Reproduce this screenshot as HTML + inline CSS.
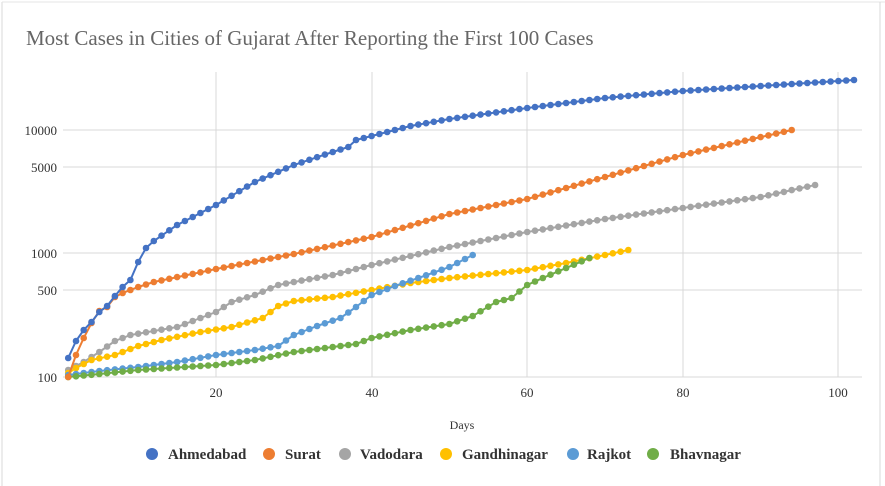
<!DOCTYPE html>
<html><head><meta charset="utf-8"><style>
html,body{margin:0;padding:0;background:#fff}
svg{display:block}
text{font-family:"Liberation Serif",serif}
</style></head><body>
<svg id="s" width="885" height="486" viewBox="0 0 885 486" xmlns="http://www.w3.org/2000/svg">
<rect x="0" y="0" width="885" height="486" fill="#fff"/>
<line x1="2" y1="2" x2="2" y2="486" stroke="#d8d8d8"/>
<line x1="2" y1="2" x2="885" y2="2" stroke="#e4e4e4"/>
<line x1="880" y1="2" x2="880" y2="486" stroke="#d8d8d8"/>
<text x="26" y="45" font-size="21" fill="#666">Most Cases in Cities of Gujarat After Reporting the First 100 Cases</text>
<g stroke="#d9d9d9" stroke-width="1">
<line x1="63" y1="130" x2="862" y2="130"/>
<line x1="63" y1="167" x2="862" y2="167"/>
<line x1="63" y1="253" x2="862" y2="253"/>
<line x1="63" y1="290" x2="862" y2="290"/>
<line x1="63" y1="377" x2="862" y2="377"/>
<line x1="216" y1="72" x2="216" y2="377"/>
<line x1="372" y1="72" x2="372" y2="377"/>
<line x1="527" y1="72" x2="527" y2="377"/>
<line x1="683" y1="72" x2="683" y2="377"/>
<line x1="838" y1="72" x2="838" y2="377"/>
</g>
<g font-size="13" fill="#333" text-anchor="end">
<text x="57" y="135">10000</text><text x="57" y="172">5000</text><text x="57" y="258">1000</text><text x="57" y="295">500</text><text x="57" y="382">100</text>
</g>
<g font-size="13" fill="#333" text-anchor="middle">
<text x="216" y="397">20</text><text x="372" y="397">40</text><text x="527" y="397">60</text><text x="683" y="397">80</text><text x="838" y="397">100</text>
<text x="462" y="429" font-size="12">Days</text>
</g>
<g id="series"></g>
<g font-size="15" font-weight="bold" fill="#333">
<circle cx="152" cy="454" r="6" fill="#4472c4"/><text x="168" y="459">Ahmedabad</text>
<circle cx="269" cy="454" r="6" fill="#ed7d31"/><text x="285" y="459">Surat</text>
<circle cx="345" cy="454" r="6" fill="#a5a5a5"/><text x="360" y="459">Vadodara</text>
<circle cx="446" cy="454" r="6" fill="#ffc000"/><text x="462" y="459">Gandhinagar</text>
<circle cx="573" cy="454" r="6" fill="#5b9bd5"/><text x="587" y="459">Rajkot</text>
<circle cx="653" cy="454" r="6" fill="#70ad47"/><text x="670" y="459">Bhavnagar</text>
</g>
</svg>
<script>
var S=[
["#a5a5a5",[[1,370],[3,362],[5,352],[7,341],[9,335],[12,331],[15,327],[20,312],[22,302],[25,295],[28,285],[30,282],[35,275],[40,265],[50,247],[60,232],[70,219],[80,208],[90,197],[97,185]]],
["#ffc000",[[1,373],[2,368],[4,360],[7,355],[10,346],[13,340],[18,332],[22,327],[26,318],[28,306],[30,301],[35,297],[40,290],[45,283],[50,278],[60,270],[65,263],[70,255],[73,250]]],
["#5b9bd5",[[1,375],[5,371],[10,367],[15,362],[20,355],[25,350],[28,346],[30,335],[33,326],[36,318],[38,307],[40,295],[43,286],[46,278],[50,267],[53,255]]],
["#70ad47",[[1,377],[5,374],[10,370],[20,365],[25,360],[30,352],[35,347],[38,344],[40,338],[45,330],[50,324],[53,316],[56,302],[58,298],[60,285],[62,278],[65,268],[68,258]]],
["#ed7d31",[[1,377],[2,355],[3,338],[4,323],[5,311],[6,307],[7,297],[8,293],[9,290],[10,287],[12,282],[20,269],[30,254],[40,237],[50,214],[60,199],[70,177],[80,155],[94,130]]],
["#4472c4",[[1,358],[2,341],[3,330],[4,322],[5,312],[6,306],[7,296],[8,287],[9,280],[10,262],[11,248],[12,241],[15,225],[20,205],[25,182],[30,165],[35,152],[37,147],[38,140],[40,136],[45,126],[50,119],[60,108],[70,98],[80,91],[90,86],[102,80]]]
];
var g=document.getElementById("series"),h="";
S.forEach(function(s){var a=s[1],pts=[];
for(var d=a[0][0];d<=a[a.length-1][0];d++){var i=0;while(i<a.length-1&&a[i+1][0]<d)i++;
var p=a[i],q=a[Math.min(i+1,a.length-1)];var t=q[0]==p[0]?0:(d-p[0])/(q[0]-p[0]);
pts.push([216+(d-20)*7.78,p[1]+(q[1]-p[1])*t]);}
h+='<polyline fill="none" stroke="'+s[0]+'" stroke-width="2" points="'+pts.map(function(p){return p[0].toFixed(1)+","+p[1].toFixed(1)}).join(" ")+'"/>';
pts.forEach(function(p){h+='<circle cx="'+p[0].toFixed(1)+'" cy="'+p[1].toFixed(1)+'" r="3.3" fill="'+s[0]+'"/>';});});
g.innerHTML=h;
</script>
</body></html>
